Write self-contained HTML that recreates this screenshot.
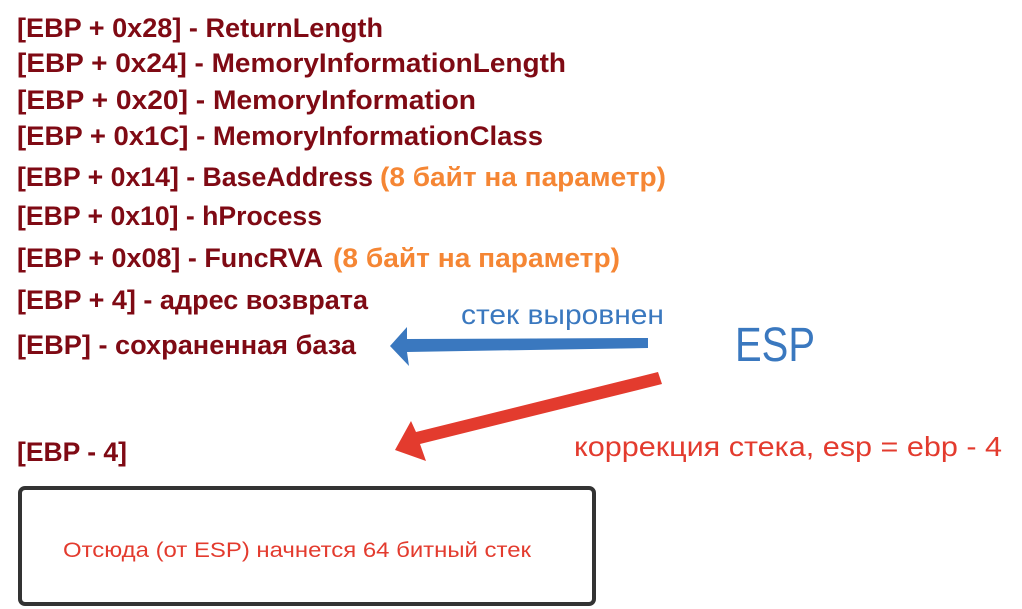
<!DOCTYPE html>
<html><head><meta charset="utf-8"><style>
html,body{margin:0;padding:0;background:#fff;width:1022px;height:609px;overflow:hidden}
</style></head><body>
<svg width="1022" height="609" xmlns="http://www.w3.org/2000/svg">
<g font-family="Liberation Sans, sans-serif" font-weight="bold" font-size="27" fill="#7f0a14">
<text x="17" y="37" textLength="366" lengthAdjust="spacingAndGlyphs">[EBP + 0x28] - ReturnLength</text>
<text x="17" y="72" textLength="549" lengthAdjust="spacingAndGlyphs">[EBP + 0x24] - MemoryInformationLength</text>
<text x="17" y="109" textLength="459" lengthAdjust="spacingAndGlyphs">[EBP + 0x20] - MemoryInformation</text>
<text x="17" y="145" textLength="526" lengthAdjust="spacingAndGlyphs">[EBP + 0x1C] - MemoryInformationClass</text>
<text x="17" y="186" textLength="356" lengthAdjust="spacingAndGlyphs">[EBP + 0x14] - BaseAddress</text>
<text x="17" y="225" textLength="305" lengthAdjust="spacingAndGlyphs">[EBP + 0x10] - hProcess</text>
<text x="17" y="267" textLength="306" lengthAdjust="spacingAndGlyphs">[EBP + 0x08] - FuncRVA</text>
<text x="17" y="309" textLength="351" lengthAdjust="spacingAndGlyphs">[EBP + 4] - адрес возврата</text>
<text x="17" y="354" textLength="339" lengthAdjust="spacingAndGlyphs">[EBP] - сохраненная база</text>
<text x="17" y="461" textLength="110" lengthAdjust="spacingAndGlyphs">[EBP - 4]</text>
</g>
<g font-family="Liberation Sans, sans-serif" font-weight="bold" font-size="27" fill="#f58634">
<text x="380" y="186" textLength="286" lengthAdjust="spacingAndGlyphs">(8 байт на параметр)</text>
<text x="333" y="267" textLength="287" lengthAdjust="spacingAndGlyphs">(8 байт на параметр)</text>
</g>
<text x="461" y="324" font-family="Liberation Sans, sans-serif" font-size="28" fill="#3a78bf" textLength="203" lengthAdjust="spacingAndGlyphs">стек выровнен</text>
<text x="735" y="361" font-family="Liberation Sans, sans-serif" font-size="48" fill="#3a78bf" textLength="80" lengthAdjust="spacingAndGlyphs">ESP</text>
<text x="574" y="456" font-family="Liberation Sans, sans-serif" font-size="28" fill="#e33b2e" textLength="428" lengthAdjust="spacingAndGlyphs">коррекция стека, esp = ebp - 4</text>
<!-- blue arrow -->
<polygon points="648,338 648,348 407,352 409,366 390,346 407,327 407,339" fill="#3a78bf"/>
<!-- red arrow -->
<polygon points="658,372 662,384 420,444 426,461 395,450 411,421 416,432" fill="#e33b2e"/>
<rect x="20" y="488" width="574" height="116" rx="5" fill="#fff" stroke="#333" stroke-width="4"/>
<text x="63" y="557" font-family="Liberation Sans, sans-serif" font-size="21" fill="#e33b2e" textLength="468" lengthAdjust="spacingAndGlyphs">Отсюда (от ESP) начнется 64 битный стек</text>
</svg>
</body></html>
